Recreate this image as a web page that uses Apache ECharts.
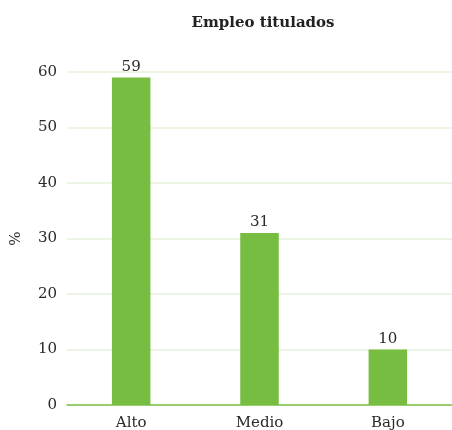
<!DOCTYPE html>
<html>
<head>
<meta charset="utf-8">
<script src="https://cdn.jsdelivr.net/npm/echarts@6/dist/echarts.min.js"></script>
<style>
  html, body { margin: 0; padding: 0; background: #fff; }
  #chart { width: 452px; height: 430px; }
</style>
</head>
<body>
<div id="chart"></div>
<script>
// datos del gráfico
var categorias = ["Alto", "Medio", "Bajo"];
var valores = [59, 31, 10];
var titulo = "Empleo titulados";

var fuente = "DejaVu Serif";
var verde = "#76bd42";

var myChart = echarts.init(document.getElementById("chart"));
myChart.setOption({
    animation: false,
    title: {
        text: titulo,
        left: 258,
        top: 11,
        textAlign: "center",
        textStyle: { fontFamily: fuente, fontSize: 15, fontWeight: "bold", color: "#222" }
    },
    grid: { left: 67, right: 0, top: 72, bottom: 25, outerBoundsMode: "none" },
    xAxis: {
        type: "category",
        data: categorias,
        axisTick: { show: false },
        axisLine: { lineStyle: { color: "#7cc04b", width: 1.5 } },
        axisLabel: { fontFamily: fuente, fontSize: 15, color: "#2a2a2a", margin: 11 }
    },
    yAxis: {
        type: "value",
        min: 0,
        max: 60,
        interval: 10,
        name: "%",
        nameLocation: "middle",
        nameGap: 43,
        nameTextStyle: { fontFamily: fuente, fontSize: 15, color: "#2a2a2a" },
        axisLabel: { fontFamily: fuente, fontSize: 15, color: "#2a2a2a", margin: 10 },
        splitLine: { lineStyle: { color: "#e6f0da", width: 1.5 } }
    },
    series: [{
        type: "bar",
        data: valores,
        barWidth: "30%",
        itemStyle: { color: verde },
        label: {
            show: true,
            position: "top",
            distance: 3,
            fontFamily: fuente,
            fontSize: 15,
            color: "#2a2a2a"
        }
    }]
});
</script>
</body>
</html>
